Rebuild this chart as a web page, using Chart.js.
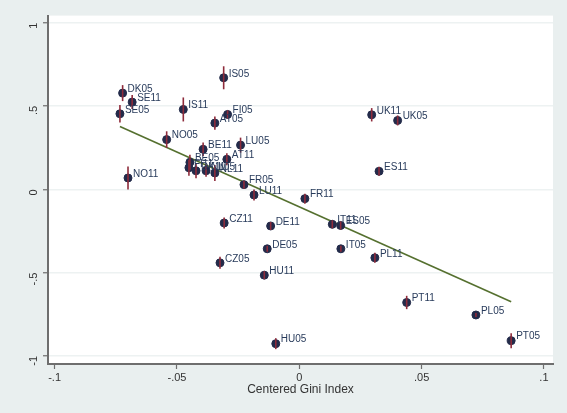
<!DOCTYPE html>
<html>
<head>
<meta charset="utf-8">
<script src="https://cdn.jsdelivr.net/npm/chart.js@4.4.1/dist/chart.umd.min.js"></script>
<style>
  html, body { margin: 0; padding: 0; background: #e9efef; }
  #wrap { width: 567px; height: 413px; }
</style>
</head>
<body>
<div id="wrap"><canvas id="chart" width="567" height="413"></canvas></div>
<script>
// ── Data ──
const countries = [
  "DK05", "SE11", "SE05", "IS05", "IS11", "FI05", "AT05", "NO05", "BE11", "LU05",
  "AT11", "BE05", "FI11", "DK11", "NL05", "NL11", "NO11", "FR05", "LU11", "FR11",
  "CZ11", "DE11", "IT11", "ES05", "DE05", "IT05", "PL11", "CZ05", "HU11", "PT11",
  "PL05", "PT05", "HU05", "UK11", "UK05", "ES11"
];
const giniX = [
  -0.0722, -0.0683, -0.0733, -0.0309, -0.0474, -0.0293, -0.0345, -0.0542, -0.0393, -0.0240,
  -0.0296, -0.0447, -0.0451, -0.0422, -0.0381, -0.0345, -0.0700, -0.0226, -0.0185, 0.0023,
  -0.0307, -0.0117, 0.0135, 0.0169, -0.0131, 0.0170, 0.0309, -0.0324, -0.0143, 0.0439,
  0.0722, 0.0866, -0.0096, 0.0296, 0.0402, 0.0326
];
const coefY = [
  0.577, 0.523, 0.453, 0.669, 0.479, 0.449, 0.397, 0.298, 0.240, 0.265,
  0.180, 0.162, 0.129, 0.111, 0.111, 0.098, 0.068, 0.028, -0.034, -0.056,
  -0.202, -0.220, -0.210, -0.217, -0.357, -0.357, -0.411, -0.441, -0.515, -0.679,
  -0.754, -0.908, -0.926, 0.447, 0.413, 0.108
];
const ciHalf = [
  0.048, 0.042, 0.053, 0.069, 0.072, 0.024, 0.040, 0.050, 0.040, 0.045,
  0.036, 0.045, 0.048, 0.045, 0.036, 0.048, 0.069, 0.024, 0.033, 0.030,
  0.033, 0.024, 0.024, 0.024, 0.018, 0.018, 0.030, 0.036, 0.024, 0.040,
  0.012, 0.045, 0.033, 0.040, 0.030, 0.027
];
const fitX = [-0.0733, 0.0866];
const fitY = [0.377, -0.675];
const xTicks = [-0.1, -0.05, 0, 0.05, 0.1];
const yTicks = [-1, -0.5, 0, 0.5, 1];

// ── Helpers ──
function stataNum(v) {
  if (Math.abs(v) < 1e-9) return "0";
  return String(Number(v.toFixed(2))).replace("0.", ".");
}

const points = giniX.map((x, i) => ({ x, y: coefY[i] }));
const fitLine = fitX.map((x, i) => ({ x, y: fitY[i] }));

// ── Plugins ──
const backdrop = {
  id: "backdrop",
  beforeDraw(chart) {
    const { ctx, chartArea: a } = chart;
    ctx.save();
    ctx.fillStyle = "#e9efef";
    ctx.fillRect(0, 0, chart.width, chart.height);
    ctx.fillStyle = "#ffffff";
    ctx.fillRect(a.left, a.top, a.right - a.left, a.bottom - a.top);
    ctx.restore();
  }
};

const ciBars = {
  id: "ciBars",
  afterDatasetsDraw(chart) {
    const { ctx, scales } = chart;
    ctx.save();
    ctx.strokeStyle = "#8e2b3b";
    ctx.lineWidth = 1.6;
    giniX.forEach((x, i) => {
      const px = scales.x.getPixelForValue(x);
      const y1 = scales.y.getPixelForValue(coefY[i] + ciHalf[i]);
      const y2 = scales.y.getPixelForValue(coefY[i] - ciHalf[i]);
      ctx.beginPath();
      ctx.moveTo(px, y1);
      ctx.lineTo(px, y2);
      ctx.stroke();
    });
    ctx.restore();
  }
};

const pointLabels = {
  id: "pointLabels",
  afterDatasetsDraw(chart) {
    const { ctx, scales } = chart;
    ctx.save();
    ctx.font = "10px 'Liberation Sans', Arial, sans-serif";
    ctx.fillStyle = "#283b5b";
    ctx.textAlign = "left";
    ctx.textBaseline = "middle";
    countries.forEach((name, i) => {
      const px = scales.x.getPixelForValue(giniX[i]);
      const py = scales.y.getPixelForValue(coefY[i]);
      ctx.fillText(name, px + 5, py - 4);
    });
    ctx.restore();
  }
};

// ── Chart ──
new Chart(document.getElementById("chart"), {
  type: "scatter",
  data: {
    datasets: [
      {
        data: points,
        backgroundColor: "#232b4a",
        borderColor: "#232b4a",
        pointRadius: 4,
        pointHoverRadius: 4,
      },
      {
        type: "line",
        data: fitLine,
        showLine: true,
        borderColor: "#55702f",
        borderWidth: 1.6,
        pointRadius: 0,
        fill: false,
      }
    ]
  },
  options: {
    responsive: false,
    animation: false,
    layout: { padding: { top: 15, right: 14, left: 0, bottom: 16 } },
    plugins: {
      legend: { display: false },
      tooltip: { enabled: false }
    },
    scales: {
      x: {
        type: "linear",
        min: -0.1027,
        max: 0.1037,
        afterBuildTicks: s => { s.ticks = xTicks.map(v => ({ value: v })); },
        afterFit: s => { s.height = 33; },
        border: { display: true, color: "#6e6e6e", width: 2 },
        grid: {
          drawOnChartArea: false,
          drawTicks: true,
          tickLength: 5,
          tickColor: "#6e6e6e",
          tickWidth: 1.2
        },
        ticks: {
          color: "#333333",
          font: { family: "'Liberation Sans', Arial, sans-serif", size: 11 },
          padding: 2,
          maxRotation: 0,
          callback: v => stataNum(v)
        },
        title: {
          display: true,
          text: "Centered Gini Index",
          color: "#333333",
          font: { family: "'Liberation Sans', Arial, sans-serif", size: 12 },
          padding: { top: 0, bottom: 0 }
        }
      },
      y: {
        type: "linear",
        min: -1.048,
        max: 1.042,
        afterBuildTicks: s => { s.ticks = yTicks.map(v => ({ value: v })); },
        afterFit: s => { s.width = 48; },
        border: { display: true, color: "#6e6e6e", width: 2 },
        grid: {
          color: "#edf2f2",
          lineWidth: 1.5,
          drawTicks: true,
          tickLength: 5,
          tickColor: "#6e6e6e",
          tickWidth: 1.2
        },
        ticks: {
          color: "#333333",
          font: { family: "'Liberation Sans', Arial, sans-serif", size: 11 },
          padding: 9,
          minRotation: 90,
          maxRotation: 90,
          callback: v => stataNum(v)
        }
      }
    }
  },
  plugins: [backdrop, ciBars, pointLabels]
});
</script>
</body>
</html>
